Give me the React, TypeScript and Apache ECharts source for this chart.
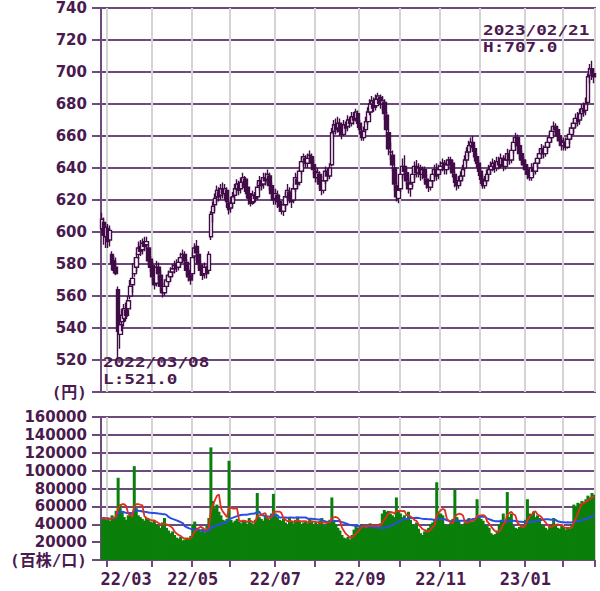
import React, { useEffect, useRef } from "react";
import * as echarts from "echarts";

// ---- Data ----
const HOLIDAYS = [
  "2022-03-21", "2022-04-29", "2022-05-03", "2022-05-04", "2022-05-05",
  "2022-07-18", "2022-08-11", "2022-09-19", "2022-09-23", "2022-10-10",
  "2022-11-03", "2022-11-23", "2023-01-02", "2023-01-03", "2023-01-09",
];

function buildDates(): string[] {
  const out: string[] = [];
  const d = new Date(Date.UTC(2022, 1, 24));
  const end = Date.UTC(2023, 1, 22);
  while (d.getTime() <= end) {
    const y = d.getUTCFullYear();
    const m = String(d.getUTCMonth() + 1).padStart(2, "0");
    const dd = String(d.getUTCDate()).padStart(2, "0");
    const wd = d.getUTCDay();
    if (wd !== 0 && wd !== 6 && !HOLIDAYS.includes(`${y}-${m}-${dd}`)) out.push(`${y}/${m}/${dd}`);
    d.setUTCDate(d.getUTCDate() + 1);
  }
  return out;
}
const dates = buildDates();

const opens = [
  602, 606, 597,
  602, 595, 586, 582, 578, 564, 536, 544, 546, 551, 552, 560, 567, 574, 578, 586, 591, 589, 594, 592, 590, 583,
  579, 571, 568, 578, 573, 565, 562, 566, 569, 572, 575, 577, 580, 578, 581, 584, 586, 581, 576, 573,
  574, 585, 591, 586, 579, 577, 574, 577, 576, 597, 612, 617, 622, 625, 623, 627, 624, 626, 618,
  615, 618, 623, 627, 630, 627, 631, 633, 628, 624, 621, 619, 623, 622, 629, 632, 630, 634, 633, 635, 629, 624,
  621, 623, 619, 616, 613, 617, 622, 625, 621, 620, 627, 633, 631, 638, 644, 646, 643, 646, 647, 642,
  638, 634, 636, 630, 626, 632, 638, 635, 642, 663, 667, 665, 668, 663, 661, 667, 666, 670, 668, 672, 671, 674,
  668, 663, 659, 664, 669, 675, 680, 682, 679, 683, 684, 680, 681, 673, 662, 650, 648, 640, 629, 621,
  627, 636, 641, 637, 631, 627, 631, 636, 641, 637, 640, 636, 639, 633, 630, 628, 632, 636, 639, 636,
  639, 641, 643, 639, 642, 645, 643, 636, 631, 629, 632, 635, 640, 645, 650, 654, 656, 652, 647, 643,
  638, 633, 629, 632, 636, 639, 641, 643, 640, 644, 642, 646, 641, 645, 649, 645, 651, 656, 659, 654, 649, 645,
  642, 639, 636, 634, 640, 638, 643, 646, 649, 652, 649, 653, 656, 659, 663, 666, 664, 660, 657,
  654, 656, 653, 658, 661, 665, 668, 671, 670, 674, 677, 676, 681, 698, 702, 699,
];
const closes = [
  608, 598, 603,
  594, 601, 580, 576, 574, 538, 542, 548, 552, 548, 557, 566, 571, 580, 584, 590, 588, 593, 591, 594, 582, 578,
  572, 567, 578, 574, 566, 562, 566, 570, 573, 575, 577, 579, 578, 581, 584, 586, 582, 576, 572, 570,
  584, 590, 587, 580, 576, 573, 578, 574, 586, 611, 616, 621, 626, 622, 627, 624, 627, 619, 614,
  618, 622, 627, 630, 626, 631, 634, 628, 624, 621, 618, 623, 621, 628, 632, 629, 634, 632, 636, 629, 624, 620,
  624, 619, 616, 613, 617, 622, 626, 621, 619, 627, 634, 630, 638, 644, 647, 643, 646, 648, 643, 639,
  634, 637, 630, 626, 632, 638, 635, 640, 662, 667, 664, 668, 663, 661, 667, 665, 670, 668, 672, 670, 675, 668,
  664, 659, 663, 669, 675, 680, 682, 678, 683, 685, 680, 682, 674, 664, 652, 650, 642, 630, 622, 626,
  636, 641, 638, 632, 627, 630, 636, 641, 637, 640, 636, 639, 634, 630, 628, 632, 636, 639, 635, 639,
  641, 643, 639, 642, 645, 643, 637, 631, 629, 632, 635, 639, 645, 650, 654, 656, 653, 647, 643, 638,
  633, 629, 632, 636, 639, 641, 643, 640, 644, 642, 646, 641, 645, 649, 645, 651, 656, 659, 654, 649, 645, 642,
  639, 636, 634, 640, 638, 643, 646, 649, 652, 649, 653, 656, 659, 663, 666, 664, 660, 657, 654,
  656, 653, 658, 661, 665, 668, 671, 669, 674, 677, 675, 680, 697, 702, 699, 697,
];
const lows = [
  598, 592, 590,
  590, 591, 576, 574, 573, 521, 527, 538, 541, 544, 547, 558, 562, 572, 575, 583, 585, 586, 588, 589, 579, 575,
  568, 564, 566, 570, 563, 559, 560, 564, 567, 569, 572, 574, 575, 576, 579, 581, 579, 573, 569, 567,
  572, 582, 583, 577, 573, 570, 571, 571, 574, 595, 606, 613, 618, 619, 620, 621, 620, 615, 611,
  612, 615, 620, 624, 623, 624, 628, 625, 621, 617, 616, 617, 618, 620, 626, 626, 627, 629, 630, 626, 621, 617,
  617, 615, 613, 611, 610, 614, 619, 618, 615, 618, 625, 627, 629, 636, 641, 640, 640, 643, 640, 636,
  631, 631, 627, 623, 624, 630, 632, 633, 641, 659, 661, 662, 660, 658, 660, 662, 663, 665, 666, 667, 669, 665,
  661, 657, 657, 662, 667, 673, 677, 675, 676, 680, 677, 676, 670, 660, 648, 645, 638, 626, 619, 618,
  625, 633, 634, 629, 624, 622, 628, 633, 634, 634, 632, 633, 631, 627, 625, 626, 629, 633, 632, 633,
  636, 638, 636, 636, 639, 640, 634, 628, 626, 627, 629, 632, 638, 643, 647, 651, 650, 644, 640, 635,
  630, 627, 627, 630, 633, 636, 638, 637, 638, 639, 640, 638, 639, 642, 642, 643, 649, 653, 651, 646, 642, 639,
  636, 633, 632, 632, 635, 636, 640, 643, 646, 646, 647, 650, 653, 656, 660, 660, 657, 654, 651,
  651, 651, 652, 655, 658, 662, 665, 666, 667, 671, 672, 673, 679, 693, 695, 693,
];
const highs = [
  612, 609, 606,
  605, 604, 588, 585, 584, 566, 548, 552, 555, 556, 560, 570, 574, 584, 587, 594, 595, 596, 597, 597, 592, 585,
  582, 575, 582, 581, 576, 568, 569, 573, 576, 578, 580, 582, 583, 584, 587, 589, 588, 583, 578, 576,
  587, 593, 595, 588, 582, 580, 581, 579, 588, 613, 619, 624, 629, 628, 630, 631, 630, 628, 620,
  622, 625, 630, 633, 632, 634, 637, 635, 630, 626, 624, 626, 625, 631, 635, 634, 637, 637, 639, 637, 631, 627,
  627, 626, 621, 619, 620, 625, 630, 628, 624, 630, 637, 636, 641, 647, 649, 648, 649, 651, 649, 645,
  641, 640, 638, 632, 635, 641, 640, 643, 665, 670, 671, 672, 671, 666, 670, 669, 673, 672, 675, 675, 677, 676,
  670, 666, 666, 672, 678, 683, 685, 684, 686, 687, 686, 685, 683, 675, 664, 656, 651, 642, 631, 629,
  640, 646, 648, 640, 634, 633, 639, 644, 645, 643, 642, 641, 641, 636, 633, 635, 639, 642, 643, 642,
  644, 646, 645, 645, 647, 647, 645, 638, 634, 635, 638, 642, 648, 653, 657, 659, 660, 654, 649, 645,
  640, 636, 635, 639, 642, 644, 646, 645, 647, 647, 649, 648, 648, 652, 651, 654, 659, 662, 661, 656, 651, 647,
  645, 642, 639, 643, 643, 646, 649, 652, 655, 654, 656, 659, 662, 666, 669, 668, 666, 662, 659,
  659, 659, 661, 664, 668, 671, 674, 675, 677, 680, 681, 684, 699, 705, 707, 702,
];
const volumes = [
  46000, 48000, 45000,
  47000, 44000, 50000, 48000, 55000, 92000, 62000, 55000, 48000, 45000, 50000, 52000, 48000, 105000, 58000, 50000, 48000, 46000, 44000, 47000, 45000, 43000,
  42000, 44000, 40000, 38000, 36000, 42000, 47000, 36000, 33000, 30000, 32000, 28000, 25000, 24000, 26000, 22000, 23000, 25000, 24000, 27000,
  40000, 43000, 36000, 34000, 32000, 35000, 31000, 38000, 47000, 126000, 66000, 58000, 62000, 54000, 50000, 45000, 44000, 46000, 111000,
  45000, 42000, 44000, 46000, 43000, 41000, 45000, 44000, 40000, 47000, 42000, 38000, 45000, 75000, 48000, 46000, 44000, 50000, 47000, 45000, 52000, 74000,
  52000, 48000, 45000, 44000, 46000, 42000, 40000, 47000, 43000, 41000, 45000, 47000, 43000, 40000, 42000, 44000, 41000, 47000, 43000, 40000,
  42000, 38000, 44000, 47000, 40000, 38000, 42000, 45000, 70000, 44000, 40000, 36000, 33000, 28000, 25000, 24000, 26000, 23000, 28000, 34000, 38000, 36000,
  38000, 40000, 37000, 36000, 39000, 41000, 38000, 36000, 40000, 37000, 41000, 52000, 56000, 54000, 55000, 52000, 50000, 48000, 70000, 55000,
  52000, 48000, 50000, 46000, 54000, 45000, 40000, 38000, 42000, 35000, 30000, 28000, 32000, 34000, 36000, 40000, 42000, 45000, 87000, 52000,
  52000, 50000, 40000, 38000, 39000, 42000, 46000, 79000, 48000, 44000, 40000, 38000, 42000, 45000, 47000, 44000, 43000, 45000, 68000, 48000,
  46000, 44000, 40000, 38000, 36000, 30000, 28000, 29000, 33000, 40000, 45000, 52000, 42000, 76000, 48000, 52000, 38000, 36000, 35000, 37000, 39000, 36000,
  45000, 68000, 52000, 50000, 54000, 48000, 50000, 47000, 40000, 38000, 36000, 34000, 37000, 39000, 47000, 40000, 36000, 35000, 38000,
  36000, 34000, 37000, 35000, 40000, 62000, 60000, 64000, 63000, 66000, 65000, 68000, 72000, 70000, 75000, 73000,
];
const priceTicks = { min: 500, max: 740, step: 20 };
const volumeTicks = { min: 0, max: 160000, step: 20000 };
const highNote = ["2023/02/21", "H:707.0"];
const lowNote = ["2022/03/08", "L:521.0"];

function movingAverage(vals: number[], n: number): number[] {
  return vals.map((_, i) => {
    const s = Math.max(0, i - n + 1);
    let sum = 0;
    for (let k = s; k <= i; k++) sum += vals[k];
    return Math.round(sum / (i - s + 1));
  });
}

const TEXT = "#4a1a4e";
const CANDLE = "#420c48";
const HGRID = "#6e4a7c";
const VGRID = "#d4d4d4";
const MONO = "'DejaVu Sans Mono', 'Noto Sans CJK JP', monospace";
const SANS = "'DejaVu Sans', 'Noto Sans CJK JP', sans-serif";

export default function App() {
  const ref = useRef<HTMLDivElement>(null);
  useEffect(() => {
    if (!ref.current) return;
    const chart = echarts.init(ref.current, undefined, { renderer: "svg" });
    const n = Math.min(dates.length, opens.length);
    const cats = dates.slice(0, n);
    const isMonthStart = (i: number) => i > 0 && cats[i] && cats[i - 1] && cats[i].slice(0, 7) !== cats[i - 1].slice(0, 7);
    const isOddMonthStart = (i: number) => isMonthStart(i) && parseInt(cats[i].slice(5, 7), 10) % 2 === 1;
    let firstLabel = -1;
    for (let i = 0; i < n; i++) if (isOddMonthStart(i)) { firstLabel = i; break; }
    const candles = cats.map((_, i) => [opens[i], closes[i], lows[i], highs[i]]);
    const xLabelStyle = { color: TEXT, fontFamily: MONO, fontWeight: "bold" as const, fontSize: 17, lineHeight: 15 };
    const yLabelStyle = { color: TEXT, fontFamily: SANS, fontWeight: "bold" as const, fontSize: 15, lineHeight: 15 };
    const unitStyle = { color: TEXT, fontFamily: MONO, fontWeight: "bold" as const, fontSize: 16, lineHeight: 15 };
    const noteStyle = { fill: TEXT, fontFamily: MONO, fontWeight: "bold", fontSize: 14.5, lineHeight: 17 };

    chart.setOption({
      animation: false,
      backgroundColor: "#ffffff",
      grid: [
        { left: 101, right: 5, top: 8, height: 384, show: true, borderColor: HGRID, borderWidth: 2 },
        { left: 101, right: 5, top: 417, height: 143, show: true, borderColor: HGRID, borderWidth: 2 },
      ],
      xAxis: [
        {
          type: "category", gridIndex: 0, data: cats, boundaryGap: true,
          axisLine: { show: false }, axisTick: { show: false }, axisLabel: { show: false },
          splitLine: { show: true, interval: (i: number) => isMonthStart(i), lineStyle: { color: VGRID, width: 2 } },
        },
        {
          type: "category", gridIndex: 1, data: cats, boundaryGap: true,
          axisLine: { show: false },
          axisTick: { show: true, interval: (i: number) => isMonthStart(i), length: 7, lineStyle: { color: HGRID, width: 2 } },
          axisLabel: {
            ...xLabelStyle, margin: 11,
            interval: (i: number) => isOddMonthStart(i),
            formatter: (v: string, i: number) => {
              const t = v.slice(2, 4) + "/" + v.slice(5, 7);
              return i === firstLabel ? `{f|${t}}` : t;
            },
            rich: { f: { ...xLabelStyle, padding: [0, 0, 0, 36] } },
          },
          splitLine: { show: true, interval: (i: number) => isMonthStart(i), lineStyle: { color: VGRID, width: 2 } },
        },
      ],
      yAxis: [
        {
          type: "value", gridIndex: 0, min: priceTicks.min, max: priceTicks.max, interval: priceTicks.step,
          axisLine: { show: true, lineStyle: { color: HGRID, width: 2 } },
          axisTick: { show: true, length: 9, lineStyle: { color: HGRID, width: 2 } },
          axisLabel: {
            ...yLabelStyle, margin: 14,
            formatter: (v: number) => (v === priceTicks.min ? "{u|(円)}" : String(v)),
            rich: { u: unitStyle },
          },
          splitLine: { show: true, lineStyle: { color: HGRID, width: 2 } },
        },
        {
          type: "value", gridIndex: 1, min: volumeTicks.min, max: volumeTicks.max, interval: volumeTicks.step,
          axisLine: { show: true, lineStyle: { color: HGRID, width: 2 } },
          axisTick: { show: true, length: 9, lineStyle: { color: HGRID, width: 2 } },
          axisLabel: {
            ...yLabelStyle, margin: 14,
            formatter: (v: number) => (v === volumeTicks.min ? "{u|(百株/口)}" : String(v)),
            rich: { u: unitStyle },
          },
          splitLine: { show: true, lineStyle: { color: HGRID, width: 2 } },
        },
      ],
      series: [
        {
          type: "candlestick", xAxisIndex: 0, yAxisIndex: 0, data: candles, barWidth: 4.2,
          itemStyle: { color: "#ffffff", color0: CANDLE, borderColor: CANDLE, borderColor0: CANDLE, borderWidth: 1.4 },
        },
        {
          type: "bar", xAxisIndex: 1, yAxisIndex: 1, data: volumes.slice(0, n), barWidth: 3,
          itemStyle: { color: "#0a7f0a" },
        },
        {
          type: "line", xAxisIndex: 1, yAxisIndex: 1, data: movingAverage(volumes.slice(0, n), 25),
          showSymbol: false, symbol: "none", lineStyle: { color: "#2a4de6", width: 2 },
        },
        {
          type: "line", xAxisIndex: 1, yAxisIndex: 1, data: movingAverage(volumes.slice(0, n), 5),
          showSymbol: false, symbol: "none", lineStyle: { color: "#e0301c", width: 1.8 },
        },
      ],
      graphic: [
        { type: "text", x: 483, y: 22, scaleX: 1.22, z: 10, style: { ...noteStyle, text: highNote.join("\n") } },
        { type: "text", x: 103, y: 354, scaleX: 1.22, z: 10, style: { ...noteStyle, text: lowNote.join("\n") } },
      ],
    });
    return () => chart.dispose();
  }, []);
  return <div ref={ref} style={{ position: "absolute", left: 0, top: 0, width: 600, height: 591 }} />;
}
